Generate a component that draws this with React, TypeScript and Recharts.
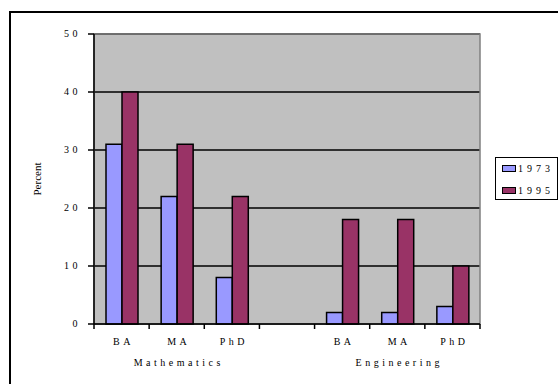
import {
  BarChart, Bar, XAxis, YAxis, CartesianGrid, ReferenceArea
} from "recharts";

const categories = ["BA", "MA", "PhD", "", "BA", "MA", "PhD"];
const women1973 = [31, 22, 8, null, 2, 2, 3];
const women1995 = [40, 31, 22, null, 18, 18, 10];
const yTicks = [0, 10, 20, 30, 40, 50];
const groupNames = ["Mathematics", "Engineering"];
const groupCenterIndex = [1, 5];
const seriesNames = ["1973", "1995"];

const data = categories.map((label, i) => ({
  idx: i,
  label,
  y1973: women1973[i],
  y1995: women1995[i],
}));

const COLORS = ["#9999FF", "#993366"];
const FONT = "'Liberation Serif', 'Times New Roman', serif";
const PLOT_W = 386;
const HALF_BAND = PLOT_W / categories.length / 2;

function XTick(props: any) {
  const { x, y, payload } = props;
  const i = payload.value as number;
  const g = groupCenterIndex.indexOf(i);
  return (
    <g>
      <line x1={x - HALF_BAND} x2={x - HALF_BAND} y1={y - 8} y2={y - 3} stroke="#000" strokeWidth={1.5} />
      {i === categories.length - 1 && (
        <line x1={x + HALF_BAND} x2={x + HALF_BAND} y1={y - 8} y2={y - 3} stroke="#000" strokeWidth={1.5} />
      )}
      <text x={x + 2} y={y + 13} textAnchor="middle" fontFamily={FONT} fontSize={10}
        letterSpacing={3.5} fill="#000">
        {categories[i]}
      </text>
      {g >= 0 && (
        <text x={x + 2} y={y + 34} textAnchor="middle" fontFamily={FONT} fontSize={10}
          letterSpacing={3.5} fill="#000">
          {groupNames[g]}
        </text>
      )}
    </g>
  );
}

function YTick(props: any) {
  const { y, payload } = props;
  return (
    <text x={81} y={y + 3} textAnchor="end" fontFamily={FONT} fontSize={10}
      letterSpacing={3.5} fill="#000">
      {payload.value}
    </text>
  );
}

function LegendBox() {
  return (
    <div style={{
      position: "absolute", left: 495, top: 157,
      border: "1.5px solid #000", background: "#fff", width: 63, height: 43,
      fontFamily: FONT, fontSize: 10, letterSpacing: 4, boxSizing: "border-box",
      paddingTop: 3, paddingLeft: 6, overflow: "hidden", whiteSpace: "nowrap",
    }}>
      {seriesNames.map((n, i) => (
        <div key={n} style={{ display: "flex", alignItems: "center", height: 14, marginBottom: i === 0 ? 8 : 0 }}>
          <span style={{
            display: "inline-block", width: 12, height: 5, background: COLORS[i],
            border: "1.5px solid #000", marginRight: 2, flexShrink: 0,
          }} />
          <span>{n}</span>
        </div>
      ))}
    </div>
  );
}

export default function App() {
  return (
    <div style={{ position: "fixed", left: 0, top: 0, width: 558, height: 384, overflow: "hidden", background: "#fff" }}>
      <div style={{
        position: "absolute", left: 9, top: 11, width: 600, height: 420,
        border: "2px solid #000",
      }} />
      <div style={{ position: "absolute", left: 0, top: 0 }}>
        <BarChart width={558} height={384} data={data}
          margin={{ top: 34, right: 78, bottom: 40, left: 54 }}
          barGap={0} barSize={16}>
          <CartesianGrid fill="#C0C0C0" stroke="#000" strokeWidth={1.5} strokeOpacity={1} vertical={false} />
          <ReferenceArea y1={0} y2={50} fill="none" stroke="#808080" strokeWidth={1.5} ifOverflow="visible" />
          <XAxis dataKey="idx" type="category" tick={<XTick />} tickLine={false}
            axisLine={{ stroke: "#000", strokeWidth: 1.5 }} height={20} interval={0} />
          <YAxis domain={[0, 50]} ticks={yTicks} width={40} tick={<YTick />}
            tickSize={6} tickLine={{ stroke: "#000", strokeWidth: 1.5 }} axisLine={{ stroke: "#000", strokeWidth: 1.5 }}
            label={{ value: "Percent", angle: -90, position: "insideLeft", offset: -17,
              style: { fontFamily: FONT, fontSize: 11, fill: "#000", textAnchor: "middle" } }} />
          <Bar dataKey="y1973" name={seriesNames[0]} fill={COLORS[0]} stroke="#000" strokeWidth={1.5}
            isAnimationActive={false} />
          <Bar dataKey="y1995" name={seriesNames[1]} fill={COLORS[1]} stroke="#000" strokeWidth={1.5}
            isAnimationActive={false} />
        </BarChart>
      </div>
      <LegendBox />
    </div>
  );
}
